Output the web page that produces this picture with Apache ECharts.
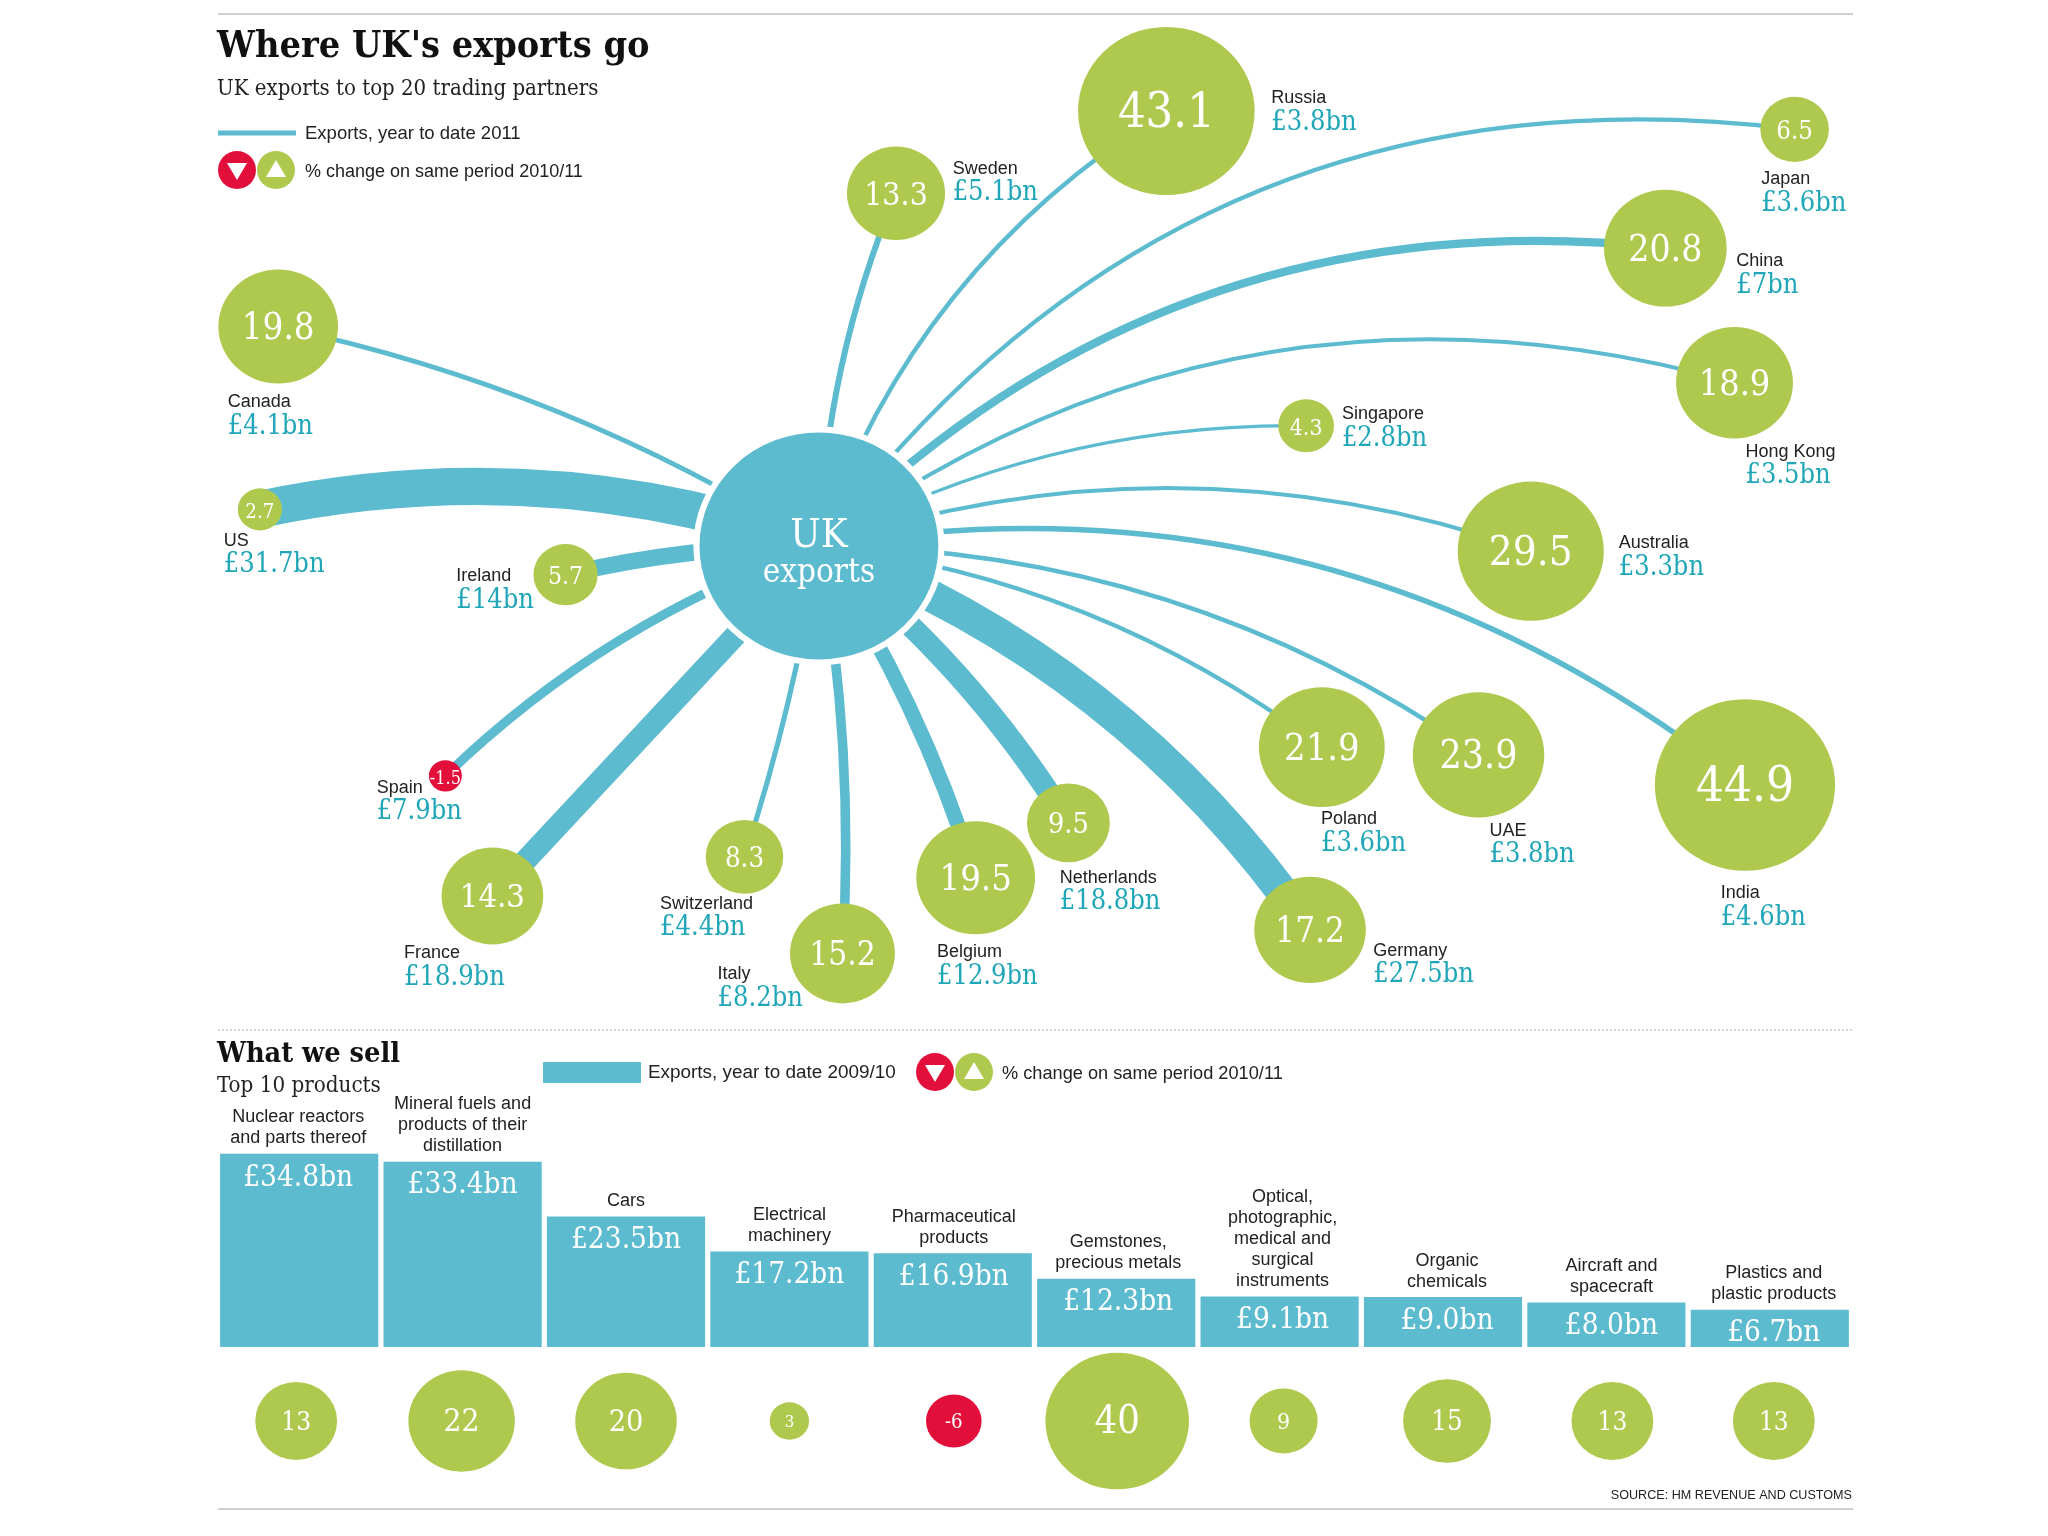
<!DOCTYPE html>
<html><head><meta charset="utf-8">
<style>html,body{margin:0;padding:0;background:#fff}#c{width:2048px;height:1536px}</style>
<script src="https://cdn.jsdelivr.net/npm/echarts@6/dist/echarts.min.js"></script>
</head><body><div id="c"></div>
<script>
const partners = ["Canada","US","Ireland","Spain","France","Switzerland","Italy","Belgium","Netherlands","Germany","Poland","UAE","India","Australia","Hong Kong","Singapore","China","Japan","Russia","Sweden"];
const partnerExports = [4.1,31.7,14,7.9,18.9,4.4,8.2,12.9,18.8,27.5,3.6,3.8,4.6,3.3,3.5,2.8,7,3.6,3.8,5.1];
const partnerChange = [19.8,2.7,5.7,-1.5,14.3,8.3,15.2,19.5,9.5,17.2,21.9,23.9,44.9,29.5,18.9,4.3,20.8,6.5,43.1,13.3];
// layout (units: 1568 x 1176 map space)
const nodeX = [213,199,433,341,377,570,645,747,818,1003,1012,1132,1336,1172,1328,1000,1275,1374,893,686];
const nodeY = [250,390,440,594,686,656,730,672,630,712,572,578,601,422,293,326,190,99,85,148];
const curve = [-.09,-.14,-.06,-.11,0,.04,.06,.07,.09,.155,.135,.155,.22,.17,.24,.13,.24,.29,.18,.09];
const labelX = [174,171,349,288,309,505,549,717,811,1051,1011,1140,1317,1239,1336,1027,1329,1348,973,729];
const labelY = [318,424,451,613,740,702,756,739,682,738,637,646,694,426,356,327,210,147,85,139];
const hubXY = [627,418];

const products = ["Nuclear reactors\nand parts thereof","Mineral fuels and\nproducts of their\ndistillation","Cars","Electrical\nmachinery","Pharmaceutical\nproducts","Gemstones,\nprecious metals","Optical,\nphotographic,\nmedical and\nsurgical\ninstruments","Organic\nchemicals","Aircraft and\nspacecraft","Plastics and\nplastic products"];
const productExports = [34.8,33.4,23.5,17.2,16.9,12.3,9.1,9.0,8.0,6.7];
const productChange = [13,22,20,3,-6,40,9,15,13,13];
// small horizontal nudges seen in the picture (px)
const barLabelShift = [-1,0,0,0,1,2,3,4,5,4];
const bubbleShift = [-3,-1,0,0,1,1,4,4,6,4];

const BLUE='#5cbbcf', GREEN='#afc94e', RED='#e30f3b', TEAL='#1fa6b8', INK='#222';
const SERIF='"DejaVu Serif Condensed","DejaVu Serif",serif', NARROW='"Liberation Sans Narrow","Liberation Sans",sans-serif';
const tone = v => v<0?RED:GREEN;
const ASPECT = 1.05;

const nodes = [{name:'UK',value:hubXY,symbolSize:[245,233],z:5,
  itemStyle:{color:BLUE,borderColor:'#fff',borderWidth:6},
  label:{show:true,position:'inside',offset:[0,9],formatter:'{a|UK}\n{b|exports}',rich:{
    a:{fontFamily:SERIF,fontSize:40,color:'#fff',lineHeight:36,align:'center'},
    b:{fontFamily:SERIF,fontSize:33,color:'#fff',lineHeight:36,align:'center'}}}}]
 .concat(partners.map((p,i)=>{const r=Math.sqrt(Math.abs(partnerChange[i]));return {name:p,value:[nodeX[i],nodeY[i]],
  symbolSize:[26.9*r,26.9*r/ASPECT],
  itemStyle:{color:tone(partnerChange[i])},
  label:{show:true,position:'inside',offset:[0,3],formatter:String(partnerChange[i]),color:'#fff',fontFamily:SERIF,
    fontSize:11+5.7*r}}}));
const links = partners.map((p,i)=>({source:'UK',target:p,
  lineStyle:{color:BLUE,opacity:1,width:1.17*partnerExports[i],curveness:curve[i]}}));

const txt=(x,y,text,font,fill,size,weight,align)=>({type:'text',x,y,style:{text,fontFamily:font,fontSize:size,fontWeight:weight||'normal',fill,align:align||'left',verticalAlign:'middle'}});
const disc=(x,y,color,up)=>[{type:'circle',shape:{cx:x,cy:y,r:19},style:{fill:color}},
  {type:'polygon',shape:{points:up?[[x,y-10],[x+10,y+7],[x-10,y+7]]:[[x-10,y-7],[x+10,y-7],[x,y+10]]},style:{fill:'#fff'}}];

const option={
 animation:false,backgroundColor:'#fff',
 grid:[{left:0,top:0,width:2048,height:1536},{left:217.5,top:1125,width:1634,height:222},{left:217.5,top:1361,width:1634,height:120}],
 xAxis:[{type:'value',min:0,max:1568,show:false},
   {type:'category',gridIndex:1,data:products,show:false},
   {type:'category',gridIndex:2,data:products,show:false}],
 yAxis:[{type:'value',min:0,max:1176,inverse:true,show:false},
   {type:'value',gridIndex:1,min:0,max:40,show:false},
   {type:'value',gridIndex:2,min:-1,max:1,show:false}],
 series:[
  {type:'graph',coordinateSystem:'cartesian2d',layout:'none',data:nodes,links,roam:false,z:2,silent:true},
  {type:'scatter',xAxisIndex:0,yAxisIndex:0,symbolSize:1,itemStyle:{color:'rgba(0,0,0,0)',opacity:1},z:6,silent:true,
   data:partners.map((p,i)=>({value:[labelX[i],labelY[i]],name:p,amount:partnerExports[i]})),
   label:{show:true,position:'right',distance:0,formatter:d=>`{n|${d.name}}\n{m|£${d.data.amount}bn}`,
    rich:{n:{fontFamily:NARROW,fontSize:18,color:INK,lineHeight:23,align:'left'},
          m:{fontFamily:SERIF,fontSize:27,color:TEAL,lineHeight:26,align:'left'}}}},
  {type:'bar',xAxisIndex:1,yAxisIndex:1,barWidth:'96.8%',barGap:'-100%',
   data:productExports.map((v,i)=>({value:v,label:{offset:[barLabelShift[i],0]}})),
   itemStyle:{color:BLUE},silent:true,
   label:{show:true,position:'insideTop',distance:9,formatter:d=>`£${d.value.toFixed(1)}bn`,fontFamily:SERIF,fontSize:29.5,color:'#fff'}},
  {type:'bar',xAxisIndex:1,yAxisIndex:1,barWidth:'96.8%',barGap:'-100%',
   data:productExports.map((v,i)=>({value:v,label:{offset:[barLabelShift[i],0]}})),
   itemStyle:{color:'rgba(0,0,0,0)'},silent:true,
   label:{show:true,position:'top',distance:5,formatter:d=>d.name,fontFamily:NARROW,fontSize:18,lineHeight:21,color:INK,align:'center'}},
  {type:'scatter',xAxisIndex:2,yAxisIndex:2,silent:true,
   data:productChange.map((v,i)=>{const r=Math.sqrt(Math.abs(v));return {value:[i,0],change:v,symbolSize:[22.7*r,22.7*r/ASPECT],symbolOffset:[bubbleShift[i],0],itemStyle:{color:tone(v),opacity:1},
     label:{fontSize:8+5*r}}}),
   label:{show:true,position:'inside',formatter:d=>String(d.data.change),color:'#fff',fontFamily:SERIF,offset:[0,2]}}
 ],
 graphic:{elements:[
  {type:'line',shape:{x1:218,y1:14,x2:1853,y2:14},style:{stroke:'#cfcfcf',lineWidth:2}},
  {type:'line',shape:{x1:218,y1:1030,x2:1853,y2:1030},style:{stroke:'#d8d2d2',lineWidth:2,lineDash:[2,2]}},
  {type:'line',shape:{x1:218,y1:1509,x2:1853,y2:1509},style:{stroke:'#cfcfcf',lineWidth:2}},
  txt(217,47,"Where UK's exports go",SERIF,'#111',37.5,'bold'),
  txt(217,89,"UK exports to top 20 trading partners",SERIF,INK,22),
  {type:'line',shape:{x1:218,y1:133,x2:296,y2:133},style:{stroke:BLUE,lineWidth:5}},
  txt(305,134,"Exports, year to date 2011",NARROW,INK,18.5),
  ...disc(237,170,RED,false),...disc(276,170,GREEN,true),
  txt(305,172,"% change on same period 2010/11",NARROW,INK,18),
  txt(217,1055,"What we sell",SERIF,'#111',28.6,'bold'),
  txt(217,1086,"Top 10 products",SERIF,INK,22.2),
  {type:'rect',shape:{x:543,y:1062,width:98,height:21},style:{fill:BLUE}},
  txt(648,1073,"Exports, year to date 2009/10",NARROW,INK,18.9),
  ...disc(935,1072,RED,false),...disc(974,1072,GREEN,true),
  txt(1002,1074,"% change on same period 2010/11",NARROW,INK,18.2),
  txt(1852,1496,"SOURCE: HM REVENUE AND CUSTOMS",NARROW,INK,12.6,'normal','right')
 ]}
};
echarts.init(document.getElementById('c')).setOption(option);
</script></body></html>
